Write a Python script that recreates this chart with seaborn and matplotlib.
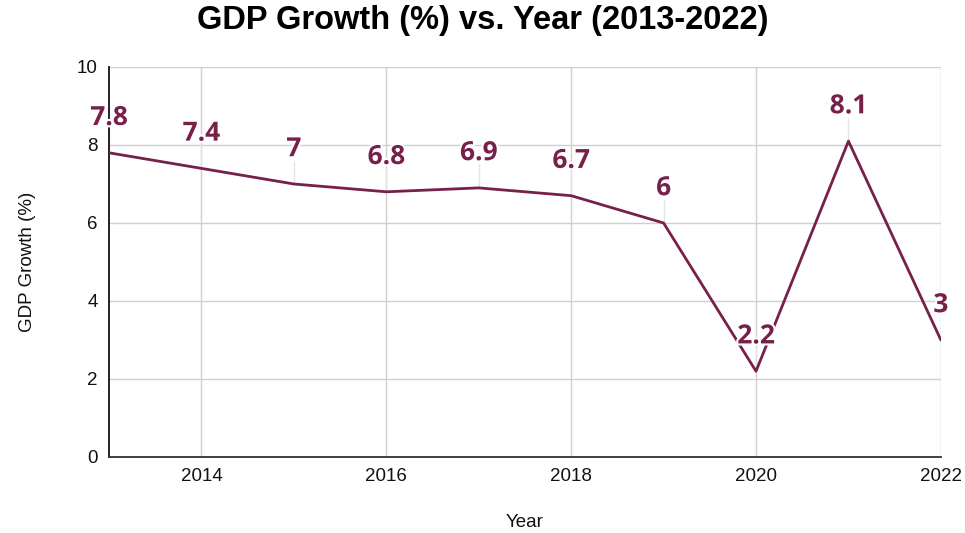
import matplotlib
matplotlib.use("Agg")
import matplotlib.pyplot as plt
import matplotlib.patheffects as pe
import seaborn as sns
import pandas as pd

years = [2013, 2014, 2015, 2016, 2017, 2018, 2019, 2020, 2021, 2022]
gdp_growth = [7.8, 7.4, 7.0, 6.8, 6.9, 6.7, 6.0, 2.2, 8.1, 3.0]
point_labels = ["7.8", "7.4", "7", "6.8", "6.9", "6.7", "6", "2.2", "8.1", "3"]
x_ticks = [2014, 2016, 2018, 2020, 2022]
y_ticks = [0, 2, 4, 6, 8, 10]

df = pd.DataFrame({"Year": years, "GDP Growth (%)": gdp_growth})

sns.set_theme(style="white")
plt.rcParams['font.family'] = ['Liberation Sans', 'DejaVu Sans']

color = "#76204a"
fig = plt.figure(figsize=(9.65, 5.33), dpi=100)
ax = fig.add_axes([0.113, 0.1426, 0.862, 0.7317])

sns.lineplot(data=df, x="Year", y="GDP Growth (%)", ax=ax, color=color, linewidth=2.0, zorder=3)

ax.set_xlim(2013, 2022)
ax.set_ylim(0, 10)
ax.set_xticks(x_ticks)
ax.set_yticks(y_ticks)
ax.set_xticklabels([str(t) for t in x_ticks], fontsize=13.5, color="#111111")
ax.set_yticklabels([str(t) for t in y_ticks], fontsize=13.5, color="#111111")
ax.tick_params(axis='x', length=0, pad=8)
ax.tick_params(axis='y', length=0, pad=8)
ax.grid(True, color="#d0d0d0", linewidth=1)
for s in ["top", "right"]:
    ax.spines[s].set_visible(False)
ax.spines["left"].set_color("#111111")
ax.spines["bottom"].set_color("#333333")
ax.spines["left"].set_linewidth(1.3)
ax.spines["bottom"].set_linewidth(1.3)

for x, y, lab in zip(years, gdp_growth, point_labels):
    ax.plot([x, x], [y, y + 0.6], color="#e4e4e4", linewidth=1, zorder=2)
    ax.annotate(lab, (x, y), xytext=(0, 20), textcoords="offset points",
                ha="center", va="baseline", fontsize=19, fontweight="bold",
                color=color, family=["Open Sans", "DejaVu Sans"], zorder=5,
                path_effects=[pe.withStroke(linewidth=3, foreground="white")],
                annotation_clip=False)

ax.set_xlabel("Year", fontsize=13.5, color="#111111")
ax.xaxis.set_label_coords(0.5, -0.167)
ax.xaxis.label.set_verticalalignment("center")
ax.set_ylabel("GDP Growth (%)", fontsize=13.5, color="#111111")
ax.yaxis.set_label_coords(-0.0986, 0.5)
ax.yaxis.label.set_verticalalignment("center")
fig.text(0.5, 1 - 21 / 533, "GDP Growth (%) vs. Year (2013-2022)", fontsize=23.5,
         fontweight="bold", ha="center", va="center", color="black")

fig.savefig("out.png", dpi=100)
